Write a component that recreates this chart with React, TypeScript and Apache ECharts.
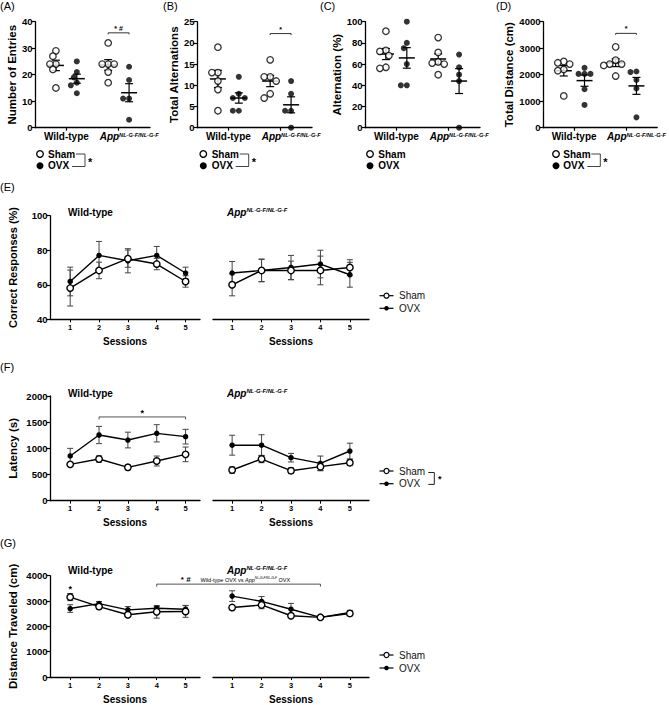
import React, { useEffect, useRef } from "react";
import * as echarts from "echarts";

const FONT = "'Liberation Sans', Arial, Helvetica, sans-serif";

// ---------- (A) Number of Entries ----------
const entriesWtSham = [29, 27, 24, 24, 22, 15];
const entriesWtOvx = [25, 21, 19, 17, 16, 13];
const entriesAppSham = [32, 24, 24, 24, 21, 17];
const entriesAppOvx = [23, 18, 11, 11, 3];
// ---------- (B) Total Alternations ----------
const altWtSham = [19, 13, 13, 11, 9, 4];
const altWtOvx = [12, 8, 7, 7, 4, 4];
const altAppSham = [16, 12, 12, 11, 8, 7];
const altAppOvx = [11, 8, 4, 4, 0];
// ---------- (C) Alternation (%) ----------
const pctWtSham = [91, 73, 72, 68, 57, 56];
const pctWtOvx = [100, 80, 75, 60, 40, 40];
const pctAppSham = [85, 71, 62, 61, 60, 50];
const pctAppOvx = [69, 57, 50, 44, 0];
// ---------- (D) Total Distance (cm) ----------
const distWtSham = [2500, 2450, 2400, 2200, 2150, 1200];
const distWtOvx = [2260, 2030, 2030, 2030, 1450, 860];
const distAppSham = [3050, 2550, 2400, 2400, 2350, 1950];
const distAppOvx = [2120, 2100, 1800, 1480, 390];

const groupLabels = ["Wild-type", "App"];
const sessions = [1, 2, 3, 4, 5];

// ---------- (E) Correct Responses (%) ----------
const corrWtShamMean = [58.1, 68.3, 75.1, 72.0, 61.9];
const corrWtShamSem = [10.4, 4.8, 5.0, 3.3, 3.3];
const corrWtOvxMean = [61.9, 77.0, 73.9, 77.0, 66.8];
const corrWtOvxSem = [8.3, 8.1, 7.0, 5.2, 3.4];
const corrAppShamMean = [60.0, 68.3, 68.3, 68.3, 70.0];
const corrAppShamSem = [6.4, 6.4, 5.4, 8.3, 4.5];
const corrAppOvxMean = [66.8, 68.3, 70.0, 72.0, 65.8];
const corrAppOvxSem = [6.7, 6.6, 7.0, 8.0, 7.2];
// ---------- (F) Latency (s) ----------
const latWtShamMean = [694, 796, 637, 758, 885];
const latWtShamSem = [30, 60, 50, 95, 140];
const latWtOvxMean = [854, 1255, 1159, 1287, 1223];
const latWtOvxSem = [146, 165, 150, 165, 140];
const latAppShamMean = [586, 796, 573, 650, 726];
const latAppShamSem = [60, 70, 55, 75, 55];
const latAppOvxMean = [1060, 1060, 822, 713, 949];
const latAppOvxSem = [190, 200, 82, 140, 150];
// ---------- (G) Distance Traveled (cm) ----------
const trvWtShamMean = [3155, 2780, 2458, 2574, 2587];
const trvWtShamSem = [140, 100, 80, 250, 230];
const trvWtOvxMean = [2703, 2897, 2652, 2716, 2677];
const trvWtOvxSem = [150, 80, 130, 70, 150];
const trvAppShamMean = [2742, 2845, 2419, 2355, 2510];
const trvAppShamSem = [90, 150, 50, 60, 100];
const trvAppOvxMean = [3194, 2987, 2677, 2355, 2548];
const trvAppOvxSem = [210, 190, 230, 70, 80];

// ---------- layout ----------
const TOP_W = 115;
const TOP_H = 106;
const TOP_TOP = 21.7;
const TOP_X_MIN = 0.4;
const TOP_X_MAX = 2.6;
const topPanels = [
  { left: 35, name: "Number of Entries", gap: 15.5, max: 40, interval: 10, data: [entriesWtSham, entriesWtOvx, entriesAppSham, entriesAppOvx] },
  { left: 197, name: "Total Alternations", gap: 12.5, max: 25, interval: 5, data: [altWtSham, altWtOvx, altAppSham, altAppOvx] },
  { left: 365, name: "Alternation (%)", gap: 21.5, max: 100, interval: 20, data: [pctWtSham, pctWtOvx, pctAppSham, pctAppOvx] },
  { left: 543, name: "Total Distance (cm)", gap: 28.5, max: 4000, interval: 1000, data: [distWtSham, distWtOvx, distAppSham, distAppOvx] },
];

const lineRows = [
  { top: 215.7, height: 103.6, name: "Correct Responses (%)", nameSize: 11, min: 40, max: 100, interval: 20, titleY: 212,
    wt: [corrWtShamMean, corrWtShamSem, corrWtOvxMean, corrWtOvxSem],
    app: [corrAppShamMean, corrAppShamSem, corrAppOvxMean, corrAppOvxSem] },
  { top: 396, height: 104.7, name: "Latency (s)", nameSize: 11.5, min: 0, max: 2000, interval: 500, titleY: 393.3,
    wt: [latWtShamMean, latWtShamSem, latWtOvxMean, latWtOvxSem],
    app: [latAppShamMean, latAppShamSem, latAppOvxMean, latAppOvxSem] },
  { top: 575.7, height: 103.3, name: "Distance Traveled (cm)", nameSize: 11.5, min: 0, max: 4000, interval: 1000, titleY: 570,
    wt: [trvWtShamMean, trvWtShamSem, trvWtOvxMean, trvWtOvxSem],
    app: [trvAppShamMean, trvAppShamSem, trvAppOvxMean, trvAppOvxSem] },
];
const WT_GRID = { left: 50, width: 150, min: 0.3, max: 5.5 };
const APP_GRID = { left: 213, width: 156, min: 0.35, max: 5.65 };

const supRich = (size: number, weight: string, color: string) => ({
  i: { fontSize: size, fontWeight: weight, fontStyle: "italic", fontFamily: FONT, color, verticalAlign: "bottom" },
  s: { fontSize: size * 0.58, fontWeight: weight, fontStyle: "italic", fontFamily: FONT, color, verticalAlign: "top" },
  t: { fontSize: size, fontWeight: weight, fontFamily: FONT, color, verticalAlign: "bottom" },
});

function meanOf(a: number[]) {
  return a.reduce((s, v) => s + v, 0) / a.length;
}
function semOf(a: number[]) {
  const m = meanOf(a);
  const v = a.reduce((s, x) => s + (x - m) * (x - m), 0) / (a.length - 1);
  return Math.sqrt(v) / Math.sqrt(a.length);
}

// simple beeswarm: horizontal offsets so dots do not overlap
function swarm(values: number[], center: number, yMax: number) {
  const pxY = TOP_H / yMax;
  const pxX = TOP_W / (TOP_X_MAX - TOP_X_MIN);
  const d = 6;
  const placed: { x: number; y: number }[] = [];
  const out: number[][] = new Array(values.length);
  const order = values.map((_, i) => i).sort((a, b) => values[b] - values[a]);
  const cands = [0, -0.5, 0.5, -1, 1, -1.5, 1.5, -2, 2];
  for (const i of order) {
    const y = values[i] * pxY;
    let ox = 0;
    for (const c of cands) {
      const x = c * d;
      if (placed.every((p) => Math.hypot(p.x - x, p.y - y) >= d)) {
        ox = x;
        break;
      }
    }
    placed.push({ x: ox, y });
    out[i] = [center + ox / pxX, values[i]];
  }
  return out;
}

const meanSemRender = (params: any, api: any) => {
  const x = api.value(0), m = api.value(1), s = api.value(2);
  const c = api.coord([x, m]);
  const hi = api.coord([x, m + s]);
  const lo = api.coord([x, m - s]);
  const st = { stroke: "#000", lineWidth: 1.2 };
  return {
    type: "group",
    children: [
      { type: "line", shape: { x1: c[0] - 8, y1: c[1], x2: c[0] + 8, y2: c[1] }, style: { stroke: "#000", lineWidth: 1.5 } },
      { type: "line", shape: { x1: hi[0], y1: hi[1], x2: lo[0], y2: lo[1] }, style: st },
      { type: "line", shape: { x1: hi[0] - 4, y1: hi[1], x2: hi[0] + 4, y2: hi[1] }, style: st },
      { type: "line", shape: { x1: lo[0] - 4, y1: lo[1], x2: lo[0] + 4, y2: lo[1] }, style: st },
    ],
  };
};

const errRender = (params: any, api: any) => {
  const x = api.value(0), m = api.value(1), s = api.value(2);
  const hi = api.coord([x, m + s]);
  const lo = api.coord([x, m - s]);
  const st = { stroke: "#444", lineWidth: 1 };
  return {
    type: "group",
    children: [
      { type: "line", shape: { x1: hi[0], y1: hi[1], x2: lo[0], y2: lo[1] }, style: st },
      { type: "line", shape: { x1: hi[0] - 3, y1: hi[1], x2: hi[0] + 3, y2: hi[1] }, style: st },
      { type: "line", shape: { x1: lo[0] - 3, y1: lo[1], x2: lo[0] + 3, y2: lo[1] }, style: st },
    ],
  };
};

const axisTxt = { color: "#000", fontWeight: "bold", fontFamily: FONT };
const plain = (v: number) => String(v);

function buildOption() {
  const grid: any[] = [];
  const xAxis: any[] = [];
  const yAxis: any[] = [];
  const series: any[] = [];

  topPanels.forEach((p, k) => {
    grid.push({ left: p.left, top: TOP_TOP, width: TOP_W, height: TOP_H });
    xAxis.push({
      type: "value", gridIndex: k, min: TOP_X_MIN, max: TOP_X_MAX,
      axisLine: { show: true, onZero: false, lineStyle: { color: "#000", width: 1.3 } },
      axisTick: { show: true, customValues: [1, 2], length: 3, lineStyle: { color: "#000", width: 1.2 } },
      axisLabel: {
        customValues: [1, 2], margin: 4,
        formatter: (v: number) => (v === 1 ? "{b|" + groupLabels[0] + "}" : "{i|" + groupLabels[1] + "}{s|NL-G-F/NL-G-F}"),
        rich: {
          b: { fontSize: 10, fontWeight: "bold", fontFamily: FONT, color: "#000", verticalAlign: "bottom" },
          i: { fontSize: 10, fontWeight: "bold", fontStyle: "italic", fontFamily: FONT, color: "#000", verticalAlign: "bottom", padding: [0, 0, 0, 21] },
          s: { fontSize: 5.6, fontWeight: "bold", fontStyle: "italic", fontFamily: FONT, color: "#000", verticalAlign: "top" },
        },
      },
      splitLine: { show: false },
    });
    yAxis.push({
      type: "value", gridIndex: k, min: 0, max: p.max, interval: p.interval,
      name: p.name, nameLocation: "middle", nameGap: p.gap,
      nameTextStyle: { ...axisTxt, fontSize: 11.5 },
      axisLine: { show: true, onZero: false, lineStyle: { color: "#000", width: 1.3 } },
      axisTick: { show: true, length: 3.5, lineStyle: { color: "#000", width: 1.2 } },
      axisLabel: { ...axisTxt, fontSize: 9.5, margin: 2.5, formatter: plain },
      splitLine: { show: false },
    });
    const centers = [0.8, 1.2, 1.8, 2.2];
    series.push({
      type: "custom", xAxisIndex: k, yAxisIndex: k, silent: true, z: 2,
      data: p.data.map((arr, g) => [centers[g], meanOf(arr), semOf(arr)]),
      renderItem: meanSemRender,
    });
    p.data.forEach((arr, g) => {
      const open = g % 2 === 0;
      series.push({
        type: "scatter", name: open ? "Sham" : "OVX", xAxisIndex: k, yAxisIndex: k, silent: true, z: 3,
        symbol: "circle", symbolSize: open ? 6.5 : 6,
        itemStyle: open ? { color: "#fff", borderColor: "#000", borderWidth: 1.3 } : { color: "#000", borderWidth: 0 },
        data: swarm(arr, centers[g], p.max),
      });
    });
  });

  lineRows.forEach((r) => {
    [WT_GRID, APP_GRID].forEach((gd, j) => {
      const idx = grid.length;
      const isWt = j === 0;
      grid.push({ left: gd.left, top: r.top, width: gd.width, height: r.height });
      xAxis.push({
        type: "value", gridIndex: idx, min: gd.min, max: gd.max,
        name: "Sessions", nameLocation: "middle", nameGap: 17,
        nameTextStyle: { ...axisTxt, fontSize: 10 },
        axisLine: { show: true, onZero: false, lineStyle: { color: "#000", width: 1.3 } },
        axisTick: { show: true, customValues: sessions, length: 3, lineStyle: { color: "#000", width: 1 } },
        axisLabel: { ...axisTxt, fontSize: 7.5, customValues: sessions, margin: 4, formatter: plain },
        splitLine: { show: false },
      });
      yAxis.push({
        type: "value", gridIndex: idx, min: r.min, max: r.max, interval: r.interval,
        name: isWt ? r.name : "", nameLocation: "middle", nameGap: 31.5,
        nameTextStyle: { ...axisTxt, fontSize: r.nameSize },
        axisLine: { show: isWt, onZero: false, lineStyle: { color: "#000", width: 1.3 } },
        axisTick: { show: isWt, length: 3.5, lineStyle: { color: "#000", width: 1.2 } },
        axisLabel: { show: isWt, ...axisTxt, fontSize: 9.5, margin: 2.5, formatter: plain },
        splitLine: { show: false },
      });
      const d = isWt ? r.wt : r.app;
      const pairs = [
        { name: "Sham", mean: d[0], sem: d[1], open: true },
        { name: "OVX", mean: d[2], sem: d[3], open: false },
      ];
      pairs.forEach((p) => {
        series.push({
          type: "custom", xAxisIndex: idx, yAxisIndex: idx, silent: true, z: 2,
          data: sessions.map((s, i) => [s, p.mean[i], p.sem[i]]),
          renderItem: errRender,
        });
      });
      pairs.forEach((p) => {
        series.push({
          type: "line", name: p.name, xAxisIndex: idx, yAxisIndex: idx, silent: true,
          z: p.open ? 4 : 3,
          data: sessions.map((s, i) => [s, p.mean[i]]),
          symbol: "circle", symbolSize: p.open ? 6.5 : 5.5, showSymbol: true,
          lineStyle: { color: "#000", width: 1.4 },
          itemStyle: p.open ? { color: "#fff", borderColor: "#000", borderWidth: 1.4 } : { color: "#000", borderColor: "#000", borderWidth: 0 },
        });
      });
    });
  });

  return { animation: false, backgroundColor: "#fff", grid, xAxis, yAxis, series };
}

function txt(text: string, x: number, y: number, size: number, weight = "bold", align = "left", color = "#000", extra: any = {}) {
  return {
    type: "text", silent: true, z: 10,
    style: {
      text, x, y, fontSize: size, fontWeight: weight, fontFamily: FONT, fill: color,
      textAlign: align, textVerticalAlign: "middle", align, verticalAlign: "middle", ...extra,
    },
  };
}
function seg(x1: number, y1: number, x2: number, y2: number, w = 1, color = "#000") {
  return { type: "line", silent: true, z: 10, shape: { x1, y1, x2, y2 }, style: { stroke: color, lineWidth: w } };
}
function bracket(p1: number[], p2: number[], dip: number, w = 1, color = "#000") {
  return {
    type: "polyline", silent: true, z: 10,
    shape: { points: [[p1[0], p1[1] + dip], [p1[0], p1[1]], [p2[0], p2[1]], [p2[0], p2[1] + dip]] },
    style: { stroke: color, lineWidth: w, fill: null },
  };
}

function buildGraphics(chart: any) {
  const g: any[] = [];
  // panel letters
  [["(A)", 0, 6], ["(B)", 163, 6], ["(C)", 320, 6], ["(D)", 496, 6], ["(E)", 0, 187], ["(F)", 0, 367], ["(G)", 0, 543]].forEach((a: any) =>
    g.push(txt(a[0], a[1], a[2], 11, "normal"))
  );

  // top legends
  const topLeg = [
    { cx: 40, tx: 48, br: true },
    { cx: 203.3, tx: 211.7, br: true },
    { cx: 370, tx: 378.3, br: false },
    { cx: 556, tx: 563.3, br: true },
  ];
  const y1 = 154, y2 = 165.7;
  topLeg.forEach((l) => {
    g.push({ type: "circle", silent: true, z: 10, shape: { cx: l.cx, cy: y1, r: 3.3 }, style: { fill: "#fff", stroke: "#000", lineWidth: 1.3 } });
    g.push({ type: "circle", silent: true, z: 10, shape: { cx: l.cx, cy: y2, r: 3.5 }, style: { fill: "#000" } });
    g.push(txt("Sham", l.tx, y1, 10));
    g.push(txt("OVX", l.tx, y2, 10));
    if (l.br) {
      const bx = l.tx + 37;
      g.push({ type: "polyline", silent: true, z: 10, shape: { points: [[l.tx + 28, y1], [bx, y1], [bx, y2 + 0.8], [l.tx + 24, y2 + 0.8]] }, style: { stroke: "#444", lineWidth: 1, fill: null } });
      g.push(txt("*", bx + 3, y1 + 7.5, 11, "bold", "left"));
    }
  });

  // top significance brackets
  const topSig = [
    { k: 0, y: 35.8, label: "* #" },
    { k: 1, y: 22.2, label: "*" },
    { k: 3, y: 3560, label: "*" },
  ];
  topSig.forEach((s) => {
    const a = chart.convertToPixel({ gridIndex: s.k }, [1.8, s.y]);
    const b = chart.convertToPixel({ gridIndex: s.k }, [2.2, s.y]);
    g.push(bracket(a, b, 1.5, 1, "#333"));
    g.push(txt(s.label, (a[0] + b[0]) / 2, a[1] - 4.5, 7, "bold", "center"));
  });

  // line-chart subplot titles
  lineRows.forEach((r) => {
    g.push(txt("Wild-type", 68, r.titleY, 10));
    g.push({
      type: "text", silent: true, z: 10,
      style: { text: "{i|App}{s|NL-G-F/NL-G-F}", x: 227, y: r.titleY, rich: supRich(10, "bold", "#000"), textVerticalAlign: "middle", verticalAlign: "middle" },
    });
  });

  // line legends
  const lineLeg = [
    { y1: 295.7, y2: 308.3, br: false },
    { y1: 471, y2: 483.7, br: true },
    { y1: 655, y2: 668, br: false },
  ];
  lineLeg.forEach((l) => {
    g.push(seg(379.5, l.y1, 393.5, l.y1, 1.2));
    g.push(seg(379.5, l.y2, 393.5, l.y2, 1.2));
    g.push({ type: "circle", silent: true, z: 11, shape: { cx: 386.5, cy: l.y1, r: 2.5 }, style: { fill: "#fff", stroke: "#000", lineWidth: 1.2 } });
    g.push({ type: "circle", silent: true, z: 11, shape: { cx: 386.5, cy: l.y2, r: 2.3 }, style: { fill: "#000" } });
    g.push(txt("Sham", 399, l.y1, 10, "normal", "left", "#111"));
    g.push(txt("OVX", 399, l.y2, 10, "normal", "left", "#111"));
    if (l.br) {
      g.push({ type: "polyline", silent: true, z: 10, shape: { points: [[428.3, l.y1 + 1.5], [434.3, l.y1 + 1.5], [434.3, l.y2 + 0.7], [428.3, l.y2 + 0.7]] }, style: { stroke: "#222", lineWidth: 1, fill: null } });
      g.push(txt("*", 438, l.y1 + 7.5, 9, "bold"));
    }
  });

  // (F) bracket session 2-5 wild-type
  const f1 = chart.convertToPixel({ gridIndex: 6 }, [2, 1600]);
  const f2 = chart.convertToPixel({ gridIndex: 6 }, [5, 1600]);
  g.push(bracket(f1, f2, 2.5, 1, "#555"));
  g.push(txt("*", (f1[0] + f2[0]) / 2, f1[1] - 4, 9, "bold", "center"));

  // (G) asterisk at session 1 wild-type
  const gs = chart.convertToPixel({ gridIndex: 8 }, [1, 3520]);
  g.push(txt("*", gs[0], gs[1] + 1.5, 9, "bold", "center"));
  // (G) bracket WT OVX s4 .. App OVX s4
  const g1 = chart.convertToPixel({ gridIndex: 8 }, [4, 3667]);
  const g2 = chart.convertToPixel({ gridIndex: 9 }, [4, 3667]);
  g.push(bracket(g1, g2, 2.5, 1, "#555"));
  const span = g2[0] - g1[0];
  g.push(txt("* #", g1[0] + span * 0.177, g1[1] - 4.5, 8, "bold", "center"));
  g.push({
    type: "text", silent: true, z: 10,
    style: {
      text: "{t|Wild-type OVX vs }{i|App}{s|NL-G-F/NL-G-F}{t| OVX}",
      x: g1[0] + span * 0.267, y: g1[1] - 4.5,
      rich: supRich(5.5, "normal", "#666"),
      textVerticalAlign: "middle", verticalAlign: "middle",
    },
  });
  return g;
}

export default function App() {
  const ref = useRef<HTMLDivElement>(null);
  useEffect(() => {
    const chart = echarts.init(ref.current as HTMLDivElement, null, { renderer: "svg" });
    chart.setOption(buildOption() as any);
    chart.setOption({ graphic: buildGraphics(chart) } as any);
    return () => chart.dispose();
  }, []);
  return (
    <div
      ref={ref}
      style={{ position: "absolute", left: 0, top: 0, width: 669, height: 705, background: "#fff" }}
    />
  );
}
